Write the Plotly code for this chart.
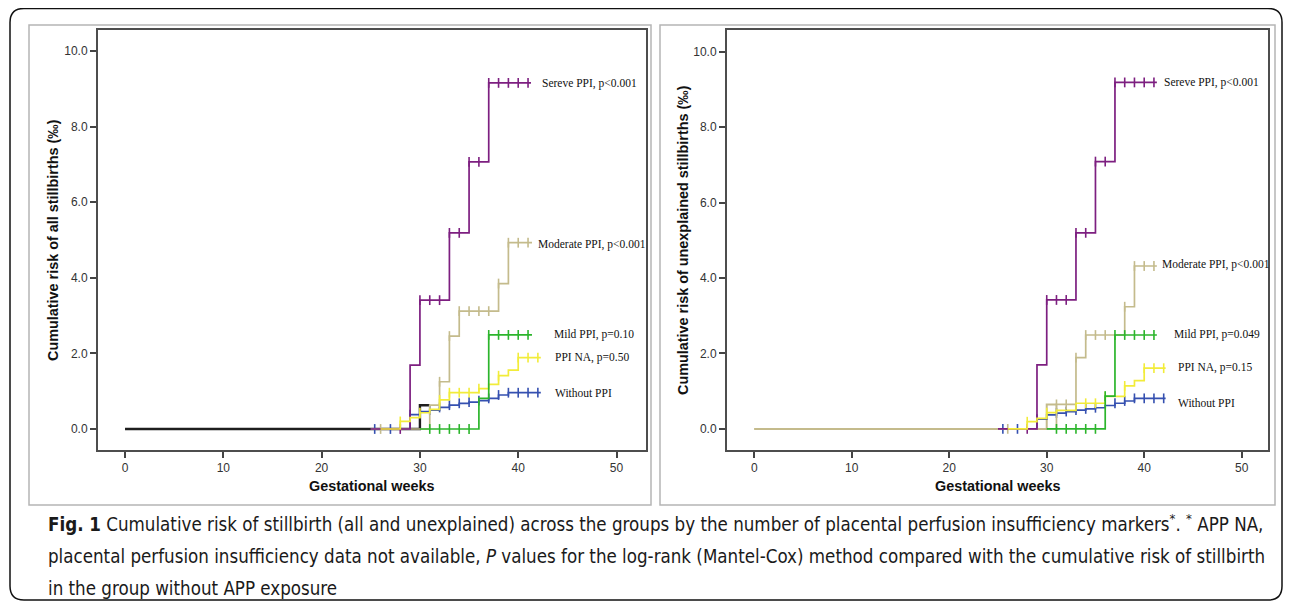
import plotly.graph_objects as go

# page body has an 8px default margin: the figure is drawn 8px in from the top-left corner
OFF = 8
W, H = 1292 - OFF, 607 - OFF

# ---------------- data ----------------
# Left panel: all stillbirths
L_severe_weeks = [29, 30, 33, 35, 37]
L_severe_vals = [1.69, 3.41, 5.19, 7.07, 9.16]
L_severe_cens = [28, 30, 31, 32, 33, 34, 35, 36, 37, 38, 39, 40, 41]
L_severe_span = [25, 41.3]

L_moder_weeks = [31, 32, 33, 34, 38, 39]
L_moder_vals = [0.63, 1.25, 2.46, 3.12, 3.85, 4.93]
L_moder_cens = [26, 32, 33, 34, 35, 36, 37, 38, 39, 40, 41]
L_moder_span = [25, 41.4]

L_mild_weeks = [36, 37]
L_mild_vals = [0.81, 2.49]
L_mild_cens = [31, 32, 33, 34, 35, 37, 38, 39, 40, 41]
L_mild_span = [30, 41.4]

L_na_weeks = [28, 29, 30, 31, 32, 33, 36, 37, 38, 39, 40]
L_na_vals = [0.20, 0.30, 0.43, 0.52, 0.77, 0.96, 1.07, 1.18, 1.41, 1.56, 1.89]
L_na_cens = [28, 30, 32, 33, 34, 35, 36, 38, 40, 41, 42]
L_na_span = [26, 42.3]

L_none_weeks = [29, 30, 31, 32, 33, 34, 35, 36, 37, 38, 39]
L_none_vals = [0.38, 0.46, 0.50, 0.57, 0.63, 0.68, 0.71, 0.75, 0.81, 0.90, 0.96]
L_none_cens = [25.4, 27, 29, 31, 32, 33, 34, 35, 36, 37, 38, 39, 40, 41, 42]
L_none_span = [25, 42.3]

L_other_weeks = [30]
L_other_vals = [0.63]
L_other_cens = []
L_other_span = [0, 31]

# Right panel: unexplained stillbirths
R_severe_weeks = [29, 30, 33, 35, 37]
R_severe_vals = [1.70, 3.42, 5.20, 7.09, 9.19]
R_severe_cens = [28, 30, 31, 32, 33, 34, 35, 36, 37, 38, 39, 40, 41]
R_severe_span = [25, 41.3]

R_moder_weeks = [31, 33, 34, 38, 39]
R_moder_vals = [0.65, 1.89, 2.49, 3.24, 4.32]
R_moder_cens = [26, 31, 32, 33, 34, 35, 36, 38, 39, 40, 41]
R_moder_span = [0, 41.3]

R_mild_weeks = [36, 37]
R_mild_vals = [0.87, 2.49]
R_mild_cens = [31, 32, 33, 34, 35, 36, 37, 38, 39, 40, 41]
R_mild_span = [30, 41.3]

R_na_weeks = [28, 29, 30, 31, 33, 36, 38, 39, 40]
R_na_vals = [0.19, 0.28, 0.43, 0.49, 0.68, 0.86, 1.14, 1.28, 1.61]
R_na_cens = [28, 30, 34, 35, 36, 38, 40, 41, 42]
R_na_span = [26, 42.2]

R_none_weeks = [29, 30, 31, 32, 33, 34, 35, 36, 37, 38, 39]
R_none_vals = [0.26, 0.37, 0.42, 0.46, 0.50, 0.53, 0.56, 0.62, 0.68, 0.74, 0.81]
R_none_cens = [25.5, 27, 29, 31, 32, 33, 34, 35, 37, 38, 39, 40, 41, 42]
R_none_span = [25, 42.2]

R_other_weeks = [30]
R_other_vals = [0.65]
R_other_cens = []
R_other_span = [0, 31]

L_labels = ["Sereve PPI, p<0.001", "Moderate PPI, p<0.001", "Mild PPI, p=0.10",
            "PPI NA, p=0.50", "Without PPI"]
R_labels = ["Sereve PPI, p<0.001", "Moderate PPI, p<0.001", "Mild PPI, p=0.049",
            "PPI NA, p=0.15", "Without PPI"]
# label anchor positions (weeks, value)
L_label_pos = [(42.2, 9.15), (41.8, 4.89), (43.4, 2.49), (43.5, 1.89), (43.5, 0.94)]
R_label_pos = [(41.8, 9.19), (41.6, 4.35), (42.85, 2.51), (43.3, 1.63), (43.3, 0.70)]

x_ticks = [0, 10, 20, 30, 40, 50]
y_ticks = [0, 2, 4, 6, 8, 10]

# ---------------- styles ----------------
C_SEV = "#7d1f80"
C_MOD = "#c4bb8c"
C_MILD = "#2cb52c"
C_NA = "#f2ec3a"
C_NONE = "#3550b0"
C_OTHER_L = "#1e1e1e"
C_OTHER_R = "#c4bb8c"


def px(x):
    return (x - OFF) / W


def py(y):
    return 1 - (y - OFF) / H


fig = go.Figure()


def step_value(weeks, vals, w):
    v = 0.0
    for wk, vv in zip(weeks, vals):
        if wk <= w:
            v = vv
    return v


def add_series(weeks, vals, cens, span, color, xa, ya, lw=1.7):
    xs = [span[0]] + list(weeks) + [span[1]]
    ys = [0.0] + list(vals) + [vals[-1] if vals else 0.0]
    fig.add_trace(go.Scatter(x=xs, y=ys, mode="lines", line=dict(color=color, width=lw, shape="hv"),
                             xaxis=xa, yaxis=ya, showlegend=False, hoverinfo="skip"))
    if cens:
        cy = [step_value(weeks, vals, c) for c in cens]
        fig.add_trace(go.Scatter(x=cens, y=cy, mode="markers",
                                 marker=dict(symbol="line-ns", size=7,
                                             line=dict(color=color, width=1.6)),
                                 xaxis=xa, yaxis=ya, showlegend=False, hoverinfo="skip"))


# left panel (draw order matters)
add_series(L_other_weeks, L_other_vals, L_other_cens, L_other_span, C_OTHER_L, "x", "y", lw=2.4)
add_series(L_none_weeks, L_none_vals, L_none_cens, L_none_span, C_NONE, "x", "y")
add_series(L_moder_weeks, L_moder_vals, L_moder_cens, L_moder_span, C_MOD, "x", "y")
add_series(L_severe_weeks, L_severe_vals, L_severe_cens, L_severe_span, C_SEV, "x", "y")
add_series(L_na_weeks, L_na_vals, L_na_cens, L_na_span, C_NA, "x", "y")
add_series(L_mild_weeks, L_mild_vals, L_mild_cens, L_mild_span, C_MILD, "x", "y")

# right panel
add_series(R_other_weeks, R_other_vals, R_other_cens, R_other_span, C_OTHER_R, "x2", "y2", lw=2.0)
add_series(R_none_weeks, R_none_vals, R_none_cens, R_none_span, C_NONE, "x2", "y2")
add_series(R_moder_weeks, R_moder_vals, R_moder_cens, R_moder_span, C_MOD, "x2", "y2")
add_series(R_severe_weeks, R_severe_vals, R_severe_cens, R_severe_span, C_SEV, "x2", "y2")
add_series(R_na_weeks, R_na_vals, R_na_cens, R_na_span, C_NA, "x2", "y2")
add_series(R_mild_weeks, R_mild_vals, R_mild_cens, R_mild_span, C_MILD, "x2", "y2")

axis_font = dict(family="Liberation Sans, Arial, sans-serif", size=12, color="#333333")
common_x = dict(tickvals=x_ticks, ticks="outside", ticklen=6, tickwidth=1.5, tickcolor="#444",
                showline=True, linecolor="#4d4d4d", linewidth=2, mirror=True,
                showgrid=False, zeroline=False, tickfont=axis_font)
common_y = dict(tickvals=y_ticks, tickformat=".1f", ticks="outside", ticklen=6, tickwidth=1.5,
                tickcolor="#444", showline=True, linecolor="#4d4d4d", linewidth=2, mirror=True,
                showgrid=False, zeroline=False, tickfont=axis_font)

fig.update_layout(
    width=W, height=H, margin=dict(l=0, r=0, t=0, b=0),
    paper_bgcolor="white", plot_bgcolor="white",
    xaxis=dict(domain=[px(98), px(646)], range=[-2.75, 53.0], anchor="y", **common_x),
    yaxis=dict(domain=[py(450), py(30)], range=[-0.556, 10.56], anchor="x", **common_y),
    xaxis2=dict(domain=[px(727), px(1268)], range=[-2.8, 52.7], anchor="y2", **common_x),
    yaxis2=dict(domain=[py(450), py(30)], range=[-0.56, 10.58], anchor="x2", **common_y),
)

ann = []
label_font = dict(family="Liberation Serif, Times New Roman, serif", size=11.5, color="#111")
for t, (lx, ly) in zip(L_labels, L_label_pos):
    ann.append(dict(x=lx, y=ly, xref="x", yref="y", text=t, showarrow=False,
                    xanchor="left", yanchor="middle", font=label_font))
for t, (lx, ly) in zip(R_labels, R_label_pos):
    ann.append(dict(x=lx, y=ly, xref="x2", yref="y2", text=t, showarrow=False,
                    xanchor="left", yanchor="middle", font=label_font))

title_font = dict(family="Liberation Sans, Arial, sans-serif", size=14.4, color="#111")
ann.append(dict(x=px(53), y=py(240), xref="paper", yref="paper", textangle=-90,
                text="<b>Cumulative risk of all stillbirths (‰)</b>", showarrow=False,
                xanchor="center", yanchor="middle", font=title_font))
ann.append(dict(x=px(683), y=py(240), xref="paper", yref="paper", textangle=-90,
                text="<b>Cumulative risk of unexplained stillbirths (‰)</b>", showarrow=False,
                xanchor="center", yanchor="middle", font=title_font))
ann.append(dict(x=px(372), y=py(486), xref="paper", yref="paper",
                text="<b>Gestational weeks</b>", showarrow=False,
                xanchor="center", yanchor="middle", font=title_font))
ann.append(dict(x=px(997.5), y=py(486), xref="paper", yref="paper",
                text="<b>Gestational weeks</b>", showarrow=False,
                xanchor="center", yanchor="middle", font=title_font))

cap_font = dict(family="DejaVu Sans Condensed, Liberation Sans Narrow, sans-serif", size=18.6,
                color="#1a1a1a")
cap_lines = [
    "<b>Fig. 1</b> Cumulative risk of stillbirth (all and unexplained) across the groups by the number "
    "of placental perfusion insufficiency markers<sup>*</sup>. <sup>*</sup> APP NA,",
    "placental perfusion insufficiency data not available, <i>P</i> values for the log-rank (Mantel-Cox) "
    "method compared with the cumulative risk of stillbirth",
    "in the group without APP exposure",
]
for line, yy in zip(cap_lines, [523, 556, 588]):
    ann.append(dict(x=px(46), y=py(yy), xref="paper", yref="paper", text=line, showarrow=False,
                    xanchor="left", yanchor="middle", font=cap_font, align="left"))

fig.update_layout(annotations=ann)

# decorative frames
r = 14
x0, x1, y0, y1 = 10, 1282, 8.5, 600
path = (f"M {px(x0 + r)},{py(y0)} L {px(x1 - r)},{py(y0)} Q {px(x1)},{py(y0)} {px(x1)},{py(y0 + r)} "
        f"L {px(x1)},{py(y1 - r)} Q {px(x1)},{py(y1)} {px(x1 - r)},{py(y1)} "
        f"L {px(x0 + r)},{py(y1)} Q {px(x0)},{py(y1)} {px(x0)},{py(y1 - r)} "
        f"L {px(x0)},{py(y0 + r)} Q {px(x0)},{py(y0)} {px(x0 + r)},{py(y0)} Z")
shapes = [
    dict(type="path", path=path, xref="paper", yref="paper", line=dict(color="#111", width=1.5)),
    dict(type="rect", xref="paper", yref="paper", x0=px(29), x1=px(651), y0=py(505), y1=py(25),
         line=dict(color="#b5b5b5", width=1.5)),
    dict(type="rect", xref="paper", yref="paper", x0=px(660), x1=px(1275), y0=py(505), y1=py(25),
         line=dict(color="#b5b5b5", width=1.5)),
]
fig.update_layout(shapes=shapes)

fig.write_html("out.html")
